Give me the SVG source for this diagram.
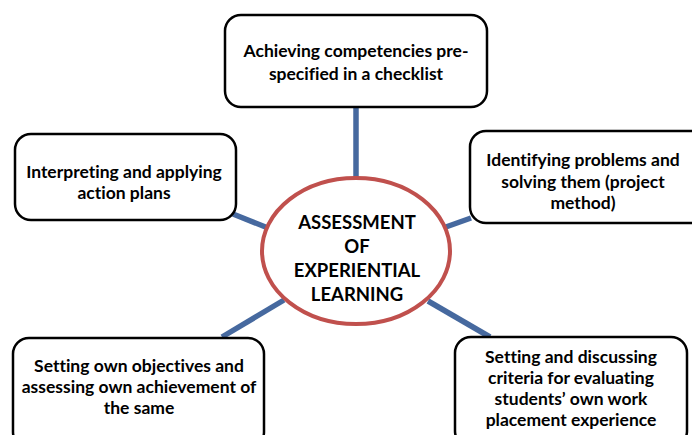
<svg xmlns="http://www.w3.org/2000/svg" width="692" height="435" viewBox="0 0 692 435">
  <style>
    .box { fill: #ffffff; stroke: #000000; stroke-width: 2.5; }
    .hub { fill: #ffffff; stroke: #C0504D; stroke-width: 4; }
    .link { stroke: #46699F; stroke-width: 5.5; fill: none; }
    text { font-family: Lato, "Open Sans", "Liberation Sans", sans-serif; font-weight: bold; fill: #000000; text-anchor: middle; font-variant-ligatures: none; }
    .t { font-size: 17.5px; }
    .h { font-size: 18.5px; }
  </style>
  <rect width="692" height="435" fill="#ffffff"/>

  <g id="connectors">
    <line class="link" x1="356" y1="106" x2="356" y2="178"/>
    <line class="link" x1="233" y1="214" x2="268" y2="228"/>
    <line class="link" x1="471" y1="218" x2="443" y2="228"/>
    <line class="link" x1="284" y1="300" x2="222" y2="337"/>
    <line class="link" x1="428" y1="301" x2="490" y2="337"/>
  </g>

  <g id="hub">
    <ellipse class="hub" cx="356" cy="251" rx="94" ry="73"/>
    <text class="h" x="357" y="229">ASSESSMENT</text>
    <text class="h" x="357" y="253">OF</text>
    <text class="h" x="357" y="277">EXPERIENTIAL</text>
    <text class="h" x="357" y="301">LEARNING</text>
  </g>

  <g id="node-top">
    <rect class="box" x="225" y="15" width="262" height="92" rx="16"/>
    <text class="t" x="356" y="57">Achieving competencies pre-</text>
    <text class="t" x="356" y="80">specified in a checklist</text>
  </g>

  <g id="node-left">
    <rect class="box" x="15" y="134" width="221" height="86" rx="16"/>
    <text class="t" x="124" y="178">Interpreting and applying</text>
    <text class="t" x="124" y="199">action plans</text>
  </g>

  <g id="node-right">
    <rect class="box" x="470" y="131" width="240" height="92" rx="16"/>
    <text class="t" x="583" y="166">Identifying problems and</text>
    <text class="t" x="583" y="188">solving them (project</text>
    <text class="t" x="583" y="209">method)</text>
  </g>

  <g id="node-bottom-left">
    <rect class="box" x="13" y="338" width="251" height="110" rx="16"/>
    <text class="t" x="139" y="372">Setting own objectives and</text>
    <text class="t" x="139" y="393">assessing own achievement of</text>
    <text class="t" x="139" y="414">the same</text>
  </g>

  <g id="node-bottom-right">
    <rect class="box" x="455" y="337" width="232" height="110" rx="16"/>
    <text class="t" x="571" y="363">Setting and discussing</text>
    <text class="t" x="571" y="384">criteria for evaluating</text>
    <text class="t" x="571" y="405">students’ own work</text>
    <text class="t" x="571" y="426">placement experience</text>
  </g>
</svg>
